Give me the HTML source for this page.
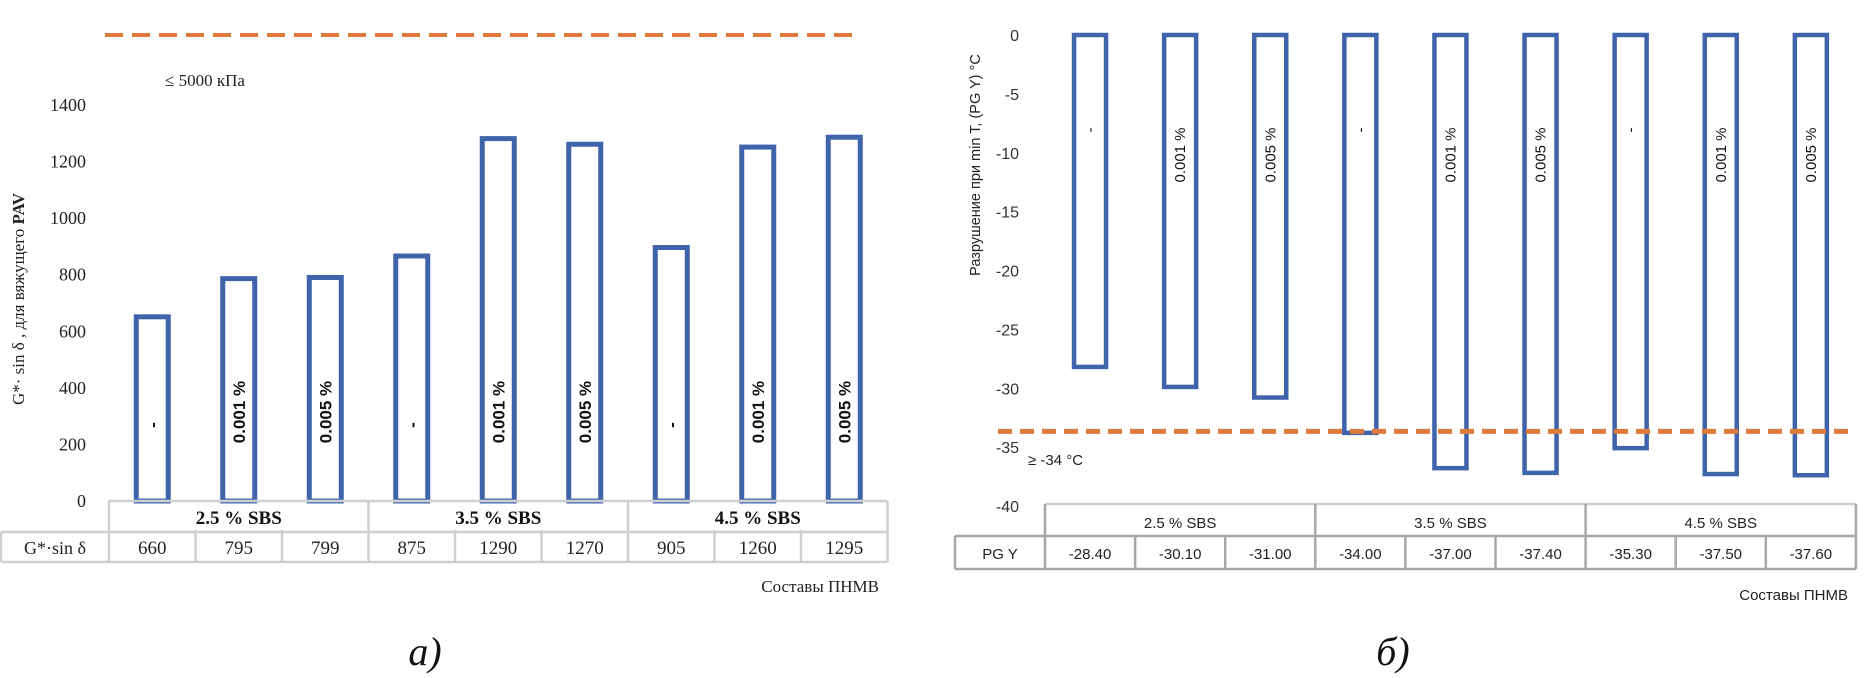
<!DOCTYPE html>
<html><head><meta charset="utf-8"><style>
html,body{margin:0;padding:0;background:#fff;width:1876px;height:678px;overflow:hidden}
svg{display:block}
.ser{font-family:"Liberation Serif",serif}
.san{font-family:"Liberation Sans",sans-serif}
</style></head><body>
<svg id="root" width="1876" height="678" viewBox="0 0 1876 678" xmlns="http://www.w3.org/2000/svg">
<g id="chartA"></g>
<g id="chartB"></g>
</svg>
<script>
// ---- Chart A data ----
const catsA = ["-", "0.001 %", "0.005 %", "-", "0.001 %", "0.005 %", "-", "0.001 %", "0.005 %"];
const valsA = [660, 795, 799, 875, 1290, 1270, 905, 1260, 1295];
const groupsA = ["2.5 % SBS", "3.5 % SBS", "4.5 % SBS"];
const ticksA = [0, 200, 400, 600, 800, 1000, 1200, 1400];
const limitA = [1800];
// ---- Chart B data ----
const catsB = ["-", "0.001 %", "0.005 %", "-", "0.001 %", "0.005 %", "-", "0.001 %", "0.005 %"];
const valsB = [-28.4, -30.1, -31.0, -34.0, -37.0, -37.4, -35.3, -37.5, -37.6];
const labelsB = ["-28.40", "-30.10", "-31.00", "-34.00", "-37.00", "-37.40", "-35.30", "-37.50", "-37.60"];
const groupsB = ["2.5 % SBS", "3.5 % SBS", "4.5 % SBS"];
const ticksB = [0, -5, -10, -15, -20, -25, -30, -35, -40];
const limitB = [-34];

const NS = "http://www.w3.org/2000/svg";
function mk(parent, tag, attrs, text){
  const e = document.createElementNS(NS, tag);
  for (const k in attrs) e.setAttribute(k, attrs[k]);
  if (text !== undefined) e.textContent = text;
  parent.appendChild(e);
  return e;
}

// ===== Chart A =====
(function(){
  const g = document.getElementById("chartA");
  const x0 = 109, cw = 86.5, y0 = 501, yTop = 105, vTop = 1400;
  const Y = v => y0 - (v / vTop) * (y0 - yTop);
  const X = i => x0 + cw * (i + 0.5);
  const xEnd = x0 + cw * catsA.length;
  ticksA.forEach(t => {
    const e = mk(g, "text", {x: 86, y: Y(t) + 6, "text-anchor": "end", "font-size": 18, class: "ser", fill: "#222"}, String(t));
    
    
  });
  valsA.forEach((v, i) => {
    const r = mk(g, "rect", {x: X(i) - 16, y: Y(v) + 2.5, width: 32, height: y0 - Y(v) - 2.5, fill: "#fff", stroke: "#4064ac", "stroke-width": 5});
    
    
    const ty = catsA[i] === "-" ? 425 : 412;
    const t = mk(g, "text", {x: X(i) + 6, y: ty, transform: `rotate(-90 ${X(i) + 6} ${ty})`, "text-anchor": "middle", "font-size": 17, "font-weight": "bold", class: "san", fill: "#111"}, catsA[i]);
    
    
  });
  const ll = mk(g, "line", {x1: 105, x2: 858, y1: 35, y2: 35, stroke: "#e07a3a", "stroke-width": 4, "stroke-dasharray": "18 9"});
  
  
  const lt = mk(g, "text", {x: 165, y: 86, "font-size": 17, class: "ser", fill: "#222"}, "≤ 5000 кПа");
  
  
  const tb = mk(g, "g", {stroke: "#cfcfcf", "stroke-width": 2.5, fill: "none"});
  
  
  mk(tb, "line", {x1: x0, x2: xEnd, y1: 501, y2: 501});
  mk(tb, "line", {x1: 1, x2: xEnd, y1: 532, y2: 532});
  mk(tb, "line", {x1: 1, x2: xEnd, y1: 562, y2: 562});
  mk(tb, "line", {x1: 1, x2: 1, y1: 532, y2: 562});
  for (let k = 0; k <= catsA.length; k++){
    const top = (k % 3 === 0) ? 501 : 530;
    mk(tb, "line", {x1: x0 + cw * k, x2: x0 + cw * k, y1: top, y2: 562});
  }
  groupsA.forEach((gr, j) => {
    const e = mk(g, "text", {x: x0 + cw * (3 * j + 1.5), y: 524, "text-anchor": "middle", "font-size": 19, "font-weight": "bold", class: "ser", fill: "#111"}, gr);
    
    
  });
  const rl = mk(g, "text", {x: 55, y: 554, "text-anchor": "middle", "font-size": 18, class: "ser", fill: "#222"}, "G*·sin δ");
  
  
  valsA.forEach((v, i) => {
    const e = mk(g, "text", {x: X(i), y: 554, "text-anchor": "middle", "font-size": 19, class: "ser", fill: "#222"}, String(v));
    
    
  });
  const xt = mk(g, "text", {x: 879, y: 592, "text-anchor": "end", "font-size": 17, class: "ser", fill: "#222"}, "Составы ПНМВ");
  
  
  const yt = mk(g, "text", {x: 24, y: 299, transform: "rotate(-90 24 299)", "text-anchor": "middle", "font-size": 17, class: "ser", fill: "#222"});
  
  
  mk(yt, "tspan", {}, "G*· sin δ , для вяжущего ");
  mk(yt, "tspan", {"font-weight": "bold"}, "PAV");
  const cap = mk(g, "text", {x: 425, y: 665, "text-anchor": "middle", "font-size": 40, "font-style": "italic", class: "ser", fill: "#111"}, "а)");
  
  
})();

// ===== Chart B =====
(function(){
  const g = document.getElementById("chartB");
  const x0 = 1045, cw = 90.1, y0 = 35, yBot = 506, vBot = -40;
  const Y = v => y0 + (v / vBot) * (yBot - y0);
  const X = i => x0 + cw * (i + 0.5);
  const xEnd = x0 + cw * catsB.length;
  ticksB.forEach(t => {
    const e = mk(g, "text", {x: 1019, y: Y(t) + 6, "text-anchor": "end", "font-size": 16, class: "san", fill: "#333"}, String(t));
    
    
  });
  valsB.forEach((v, i) => {
    const r = mk(g, "rect", {x: X(i) - 16, y: y0, width: 32, height: Y(v) - y0 - 2.5, fill: "#fff", stroke: "#4064ac", "stroke-width": 4.5});
    
    
    const ty = catsB[i] === "-" ? 130 : 155;
    const t = mk(g, "text", {x: X(i) + 5, y: ty, transform: `rotate(-90 ${X(i) + 5} ${ty})`, "text-anchor": "middle", "font-size": 15, class: "san", fill: "#111"}, catsB[i]);
    
    
  });
  const ly = Y(limitB[0]) - 4;
  const ll = mk(g, "line", {x1: 998, x2: 1856, y1: ly, y2: ly, stroke: "#e07a3a", "stroke-width": 5, "stroke-dasharray": "14 8"});
  
  
  const lt = mk(g, "text", {x: 1028, y: 465, "font-size": 15, class: "san", fill: "#222"}, "≥ -34 °C");
  
  
  const tb = mk(g, "g", {stroke: "#a8a8a8", "stroke-width": 2.5, fill: "none"});
  
  
  mk(tb, "line", {x1: x0, x2: xEnd, y1: 504, y2: 504, stroke: "#d0d0d0"});
  mk(tb, "line", {x1: 955, x2: xEnd, y1: 536, y2: 536});
  mk(tb, "line", {x1: 955, x2: xEnd, y1: 569, y2: 569});
  mk(tb, "line", {x1: 955, x2: 955, y1: 536, y2: 569});
  for (let k = 0; k <= catsB.length; k++){
    const top = (k % 3 === 0) ? 504 : 536;
    mk(tb, "line", {x1: x0 + cw * k, x2: x0 + cw * k, y1: top, y2: 569});
  }
  groupsB.forEach((gr, j) => {
    const e = mk(g, "text", {x: x0 + cw * (3 * j + 1.5), y: 528, "text-anchor": "middle", "font-size": 15, class: "san", fill: "#222"}, gr);
    
    
  });
  const rl = mk(g, "text", {x: 1000, y: 559, "text-anchor": "middle", "font-size": 15, class: "san", fill: "#222"}, "PG Y");
  
  
  labelsB.forEach((s, i) => {
    const e = mk(g, "text", {x: X(i), y: 559, "text-anchor": "middle", "font-size": 15, class: "san", fill: "#222"}, s);
    
    
  });
  const xt = mk(g, "text", {x: 1848, y: 600, "text-anchor": "end", "font-size": 15, class: "san", fill: "#222"}, "Составы ПНМВ");
  
  
  const yt = mk(g, "text", {x: 980, y: 165, transform: "rotate(-90 980 165)", "text-anchor": "middle", "font-size": 14.5, class: "san", fill: "#222"}, "Разрушение при min T, (PG Y) °C");
  
  
  const cap = mk(g, "text", {x: 1393, y: 665, "text-anchor": "middle", "font-size": 40, "font-style": "italic", class: "ser", fill: "#111"}, "б)");
  
  
})();
</script>
</body></html>
